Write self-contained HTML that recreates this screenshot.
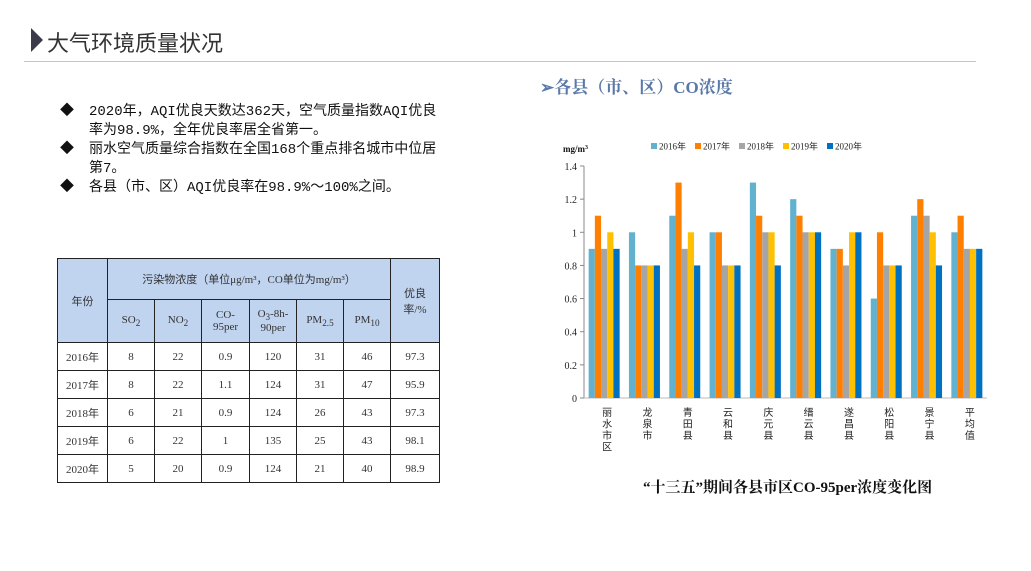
<!DOCTYPE html>
<html><head><meta charset="utf-8"><style>
body{margin:0;width:1031px;height:571px;background:#fff;position:relative;overflow:hidden;font-family:"Liberation Serif","Noto Serif CJK SC",serif}
.abs{position:absolute}
table{border-collapse:collapse;position:absolute;left:57px;top:258px;font-family:"Liberation Serif","Noto Sans CJK SC",serif;font-size:11px;color:#333}
td{border:1px solid #222;text-align:center;padding:0}
.h{background:#c0d3ef}
.bl{font-family:"Liberation Mono","Noto Sans CJK SC",monospace;font-size:14px;color:#111;line-height:19px}
.bl span.t{width:350px;display:block;word-break:break-all}
</style></head><body>
<div class="abs" style="left:31px;top:28px;width:0;height:0;border-top:12px solid transparent;border-bottom:12px solid transparent;border-left:12px solid #3a3a48"></div>
<div class="abs" style="left:47px;top:26px;font-size:22px;color:#333;font-family:'Liberation Sans','Noto Sans CJK SC',sans-serif">大气环境质量状况</div>
<div class="abs" style="left:24px;top:61px;width:952px;height:1px;background:#c4c4c4"></div>
<div class="abs bl" style="left:60px;top:103px;width:400px">
<div style="display:flex"><span style="width:29px">◆</span><span class="t">2020年，AQI优良天数达362天，空气质量指数AQI优良率为98.9%，全年优良率居全省第一。</span></div>
<div style="display:flex"><span style="width:29px">◆</span><span class="t">丽水空气质量综合指数在全国168个重点排名城市中位居第7。</span></div>
<div style="display:flex"><span style="width:29px">◆</span><span class="t">各县（市、区）AQI优良率在98.9%～100%之间。</span></div>
</div>
<table>
<tr style="height:41px"><td class="h" rowspan="2" style="width:49px">年份</td><td class="h" colspan="6">污染物浓度（单位μg/m³，CO单位为mg/m³）</td><td class="h" rowspan="2" style="width:48px">优良<br>率/%</td></tr>
<tr style="height:43px"><td class="h" style="width:46px">SO<sub>2</sub></td><td class="h" style="width:46px">NO<sub>2</sub></td><td class="h" style="width:47px">CO-<br>95per</td><td class="h" style="width:46px">O<sub>3</sub>-8h-<br>90per</td><td class="h" style="width:46px">PM<sub>2.5</sub></td><td class="h" style="width:46px">PM<sub>10</sub></td></tr>
<tr style="height:28px"><td>2016年</td><td>8</td><td>22</td><td>0.9</td><td>120</td><td>31</td><td>46</td><td>97.3</td></tr>
<tr style="height:28px"><td>2017年</td><td>8</td><td>22</td><td>1.1</td><td>124</td><td>31</td><td>47</td><td>95.9</td></tr>
<tr style="height:28px"><td>2018年</td><td>6</td><td>21</td><td>0.9</td><td>124</td><td>26</td><td>43</td><td>97.3</td></tr>
<tr style="height:28px"><td>2019年</td><td>6</td><td>22</td><td>1</td><td>135</td><td>25</td><td>43</td><td>98.1</td></tr>
<tr style="height:28px"><td>2020年</td><td>5</td><td>20</td><td>0.9</td><td>124</td><td>21</td><td>40</td><td>98.9</td></tr>
</table>
<div class="abs" style="left:540px;top:73px;font-size:17px;font-weight:bold;color:#5a78a8">➢各县（市、区）CO浓度</div>
<div class="abs" style="left:643px;top:476px;font-size:15px;font-weight:bold;color:#111">“十三五”期间各县市区CO-95per浓度变化图</div>
<svg class="abs" style="left:0;top:0" width="1031" height="571" id="chart"></svg>
<script>
const categories=["丽水市区","龙泉市","青田县","云和县","庆元县","缙云县","遂昌县","松阳县","景宁县","平均值"];
const seriesNames=["2016年","2017年","2018年","2019年","2020年"];
const s2016=[0.9,1.0,1.1,1.0,1.3,1.2,0.9,0.6,1.1,1.0];
const s2017=[1.1,0.8,1.3,1.0,1.1,1.1,0.9,1.0,1.2,1.1];
const s2018=[0.9,0.8,0.9,0.8,1.0,1.0,0.8,0.8,1.1,0.9];
const s2019=[1.0,0.8,1.0,0.8,1.0,1.0,1.0,0.8,1.0,0.9];
const s2020=[0.9,0.8,0.8,0.8,0.8,1.0,1.0,0.8,0.8,0.9];
const yTicks=[0,0.2,0.4,0.6,0.8,1,1.2,1.4];
const colors=["#62b2cf","#ff7f00","#a5a5a5","#ffc000","#0070c0"];
const series=[s2016,s2017,s2018,s2019,s2020];
const NS="http://www.w3.org/2000/svg";
const svg=document.getElementById('chart');
const x0=584,x1=987,y0=398,yTop=166;
const yS=v=>y0-(v/1.4)*(y0-yTop);
const gw=(x1-x0)/categories.length;
function mk(t,a){const e=document.createElementNS(NS,t);for(const k in a)e.setAttribute(k,a[k]);svg.appendChild(e);return e;}
yTicks.forEach(t=>{
 const l=mk('line',{x1:x0-4,x2:x0,y1:yS(t),y2:yS(t),stroke:'#888'});
 
 
 const tx=mk('text',{x:x0-7,y:yS(t)+4,'text-anchor':'end','font-size':10,fill:'#222','font-family':'Liberation Serif,serif'});
 tx.textContent=String(t);
 
 
});
const ya=mk('line',{x1:x0,x2:x0,y1:yTop,y2:y0,stroke:'#888'});


const xa=mk('line',{x1:x0,x2:x1,y1:y0,y2:y0,stroke:'#bbb'});


const bw=6.2;
categories.forEach((c,i)=>{
 const gx=x0+i*gw+(gw-bw*5)/2;
 series.forEach((s,j)=>{
  const r=mk('rect',{x:gx+j*bw,y:yS(s[i]),width:bw,height:y0-yS(s[i]),fill:colors[j]});
  
  
 });
 const cx=x0+i*gw+gw/2+3;
 [...c].forEach((ch,k)=>{
  const t=mk('text',{x:cx,y:y0+18+k*11.5,'text-anchor':'middle','font-size':10,fill:'#222','font-family':'Noto Sans CJK SC,sans-serif'});
  t.textContent=ch;
  
  
 });
});
const u=mk('text',{x:563,y:152,'font-size':9,'font-weight':'bold',fill:'#111','font-family':'Liberation Serif,serif'});
u.innerHTML='mg/m<tspan dy="-3" font-size="6">3</tspan>';


seriesNames.forEach((n,j)=>{
 const lx=651+j*44;
 const r=mk('rect',{x:lx,y:143,width:6,height:6,fill:colors[j]});
 
 
 const t=mk('text',{x:lx+8,y:149.5,'font-size':9,fill:'#222','font-family':'Liberation Serif,Noto Sans CJK SC,serif'});
 t.textContent=n;
 
 
});
</script>
</body></html>
